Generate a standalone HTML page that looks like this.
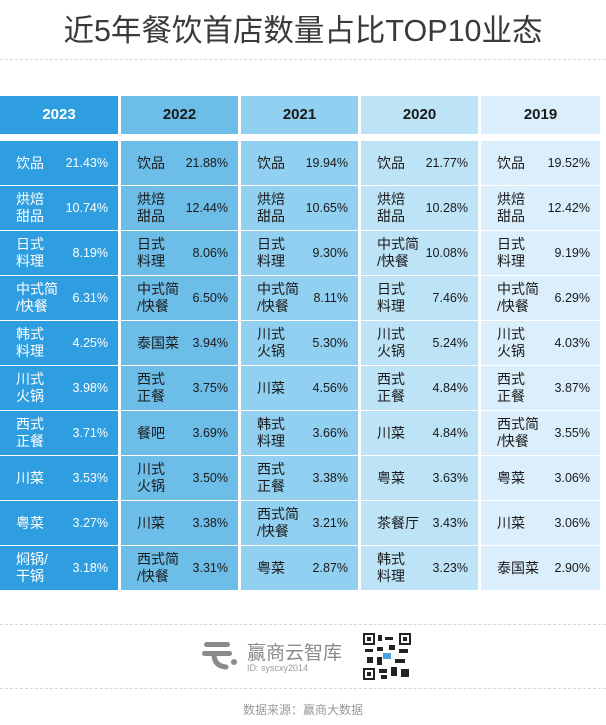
<!DOCTYPE html>
<html><head><meta charset="utf-8"><style>
*{margin:0;padding:0;box-sizing:border-box}
body{width:606px;height:725px;background:#fff;position:relative;overflow:hidden;font-family:"Liberation Sans","Noto Sans CJK SC",sans-serif}
.title{position:absolute;top:6px;left:0;width:606px;text-align:center;font-size:30.5px;color:#3a3a3a;font-family:"Liberation Sans Narrow","Liberation Sans","Noto Sans CJK SC",sans-serif}
.dash{position:absolute;left:0;width:606px;border-top:1px dashed #d8d8d8}
.col{position:absolute;top:96px}
.hd{height:38px;line-height:38px;text-align:center;font-weight:bold;font-size:15px}
.cell{position:absolute;height:44px;width:100%}
.nm{position:absolute;left:16px;top:0;height:44px;display:flex;align-items:center;font-size:14px;line-height:17px}
.v{position:absolute;right:10px;top:0;height:44px;line-height:44px;font-size:12.5px}
</style></head><body>
<div class="title">近5年餐饮首店数量占比TOP10业态</div>
<div class="dash" style="top:59px"></div>
<div id="t"></div>
<div class="dash" style="top:624px"></div>
<svg style="position:absolute;left:200px;top:636px" width="42" height="36" viewBox="0 0 42 36"><rect x="4" y="6" width="26" height="5" rx="2.5" fill="#8a8a8a"/><rect x="2" y="15" width="30" height="5" rx="2.5" fill="#8a8a8a"/><path d="M14 18 Q14 30 26 31" stroke="#8a8a8a" stroke-width="5" fill="none" stroke-linecap="round"/><circle cx="34" cy="26" r="3" fill="#8a8a8a"/></svg>
<div style="position:absolute;left:247px;top:638px;font-size:19px;color:#8a8a8a">赢商云智库</div>
<div style="position:absolute;left:247px;top:663px;font-size:9px;color:#999">ID: syscxy2014</div>
<svg style="position:absolute;left:363px;top:633px" width="48" height="47" viewBox="0 0 48 47"><rect width="48" height="47" fill="#fff"/><g fill="#222"><rect x="0" y="0" width="12" height="12"/><rect x="36" y="0" width="12" height="12"/><rect x="0" y="35" width="12" height="12"/></g><g fill="#fff"><rect x="2" y="2" width="8" height="8"/><rect x="38" y="2" width="8" height="8"/><rect x="2" y="37" width="8" height="8"/></g><g fill="#222"><rect x="4" y="4" width="4" height="4"/><rect x="40" y="4" width="4" height="4"/><rect x="4" y="39" width="4" height="4"/><rect x="15" y="2" width="4" height="6"/><rect x="22" y="4" width="8" height="3"/><rect x="14" y="14" width="6" height="4"/><rect x="2" y="16" width="8" height="3"/><rect x="26" y="12" width="6" height="5"/><rect x="36" y="16" width="9" height="4"/><rect x="4" y="24" width="6" height="6"/><rect x="14" y="24" width="5" height="8"/><rect x="32" y="26" width="10" height="4"/><rect x="16" y="36" width="8" height="4"/><rect x="28" y="34" width="6" height="9"/><rect x="38" y="36" width="8" height="8"/><rect x="18" y="42" width="6" height="4"/></g><rect x="20" y="20" width="8" height="6" fill="#4aa3df"/></svg>
<div class="dash" style="top:688px"></div>
<div style="position:absolute;top:701px;width:606px;text-align:center;font-size:12px;color:#999">数据来源：赢商大数据</div>
<script>
const cols=[
{x:0,w:118,bg:"#2f9ee0",c:"#fff",h:"2023",d:[["饮品","21.43%"],["烘焙<br>甜品","10.74%"],["日式<br>料理","8.19%"],["中式简<br>/快餐","6.31%"],["韩式<br>料理","4.25%"],["川式<br>火锅","3.98%"],["西式<br>正餐","3.71%"],["川菜","3.53%"],["粤菜","3.27%"],["焖锅/<br>干锅","3.18%"]]},
{x:121,w:117,bg:"#6dbde9",c:"#1a1a1a",h:"2022",d:[["饮品","21.88%"],["烘焙<br>甜品","12.44%"],["日式<br>料理","8.06%"],["中式简<br>/快餐","6.50%"],["泰国菜","3.94%"],["西式<br>正餐","3.75%"],["餐吧","3.69%"],["川式<br>火锅","3.50%"],["川菜","3.38%"],["西式简<br>/快餐","3.31%"]]},
{x:241,w:117,bg:"#91d0f0",c:"#1a1a1a",h:"2021",d:[["饮品","19.94%"],["烘焙<br>甜品","10.65%"],["日式<br>料理","9.30%"],["中式简<br>/快餐","8.11%"],["川式<br>火锅","5.30%"],["川菜","4.56%"],["韩式<br>料理","3.66%"],["西式<br>正餐","3.38%"],["西式简<br>/快餐","3.21%"],["粤菜","2.87%"]]},
{x:361,w:117,bg:"#bde3f6",c:"#1a1a1a",h:"2020",d:[["饮品","21.77%"],["烘焙<br>甜品","10.28%"],["中式简<br>/快餐","10.08%"],["日式<br>料理","7.46%"],["川式<br>火锅","5.24%"],["西式<br>正餐","4.84%"],["川菜","4.84%"],["粤菜","3.63%"],["茶餐厅","3.43%"],["韩式<br>料理","3.23%"]]},
{x:481,w:119,bg:"#daeffb",c:"#1a1a1a",h:"2019",d:[["饮品","19.52%"],["烘焙<br>甜品","12.42%"],["日式<br>料理","9.19%"],["中式简<br>/快餐","6.29%"],["川式<br>火锅","4.03%"],["西式<br>正餐","3.87%"],["西式简<br>/快餐","3.55%"],["粤菜","3.06%"],["川菜","3.06%"],["泰国菜","2.90%"]]}];
let h="";
cols.forEach(c=>{
 h+=`<div class="col" style="left:${c.x}px;width:${c.w}px;color:${c.c}"><div class="hd" style="background:${c.bg}">${c.h}</div>`;
 c.d.forEach((r,i)=>{h+=`<div class="cell" style="top:${45+i*45}px;background:${c.bg}"><div class="nm">${r[0]}</div><div class="v">${r[1]}</div></div>`});
 h+=`</div>`;
});
document.getElementById("t").innerHTML=h;
</script>
</body></html>
